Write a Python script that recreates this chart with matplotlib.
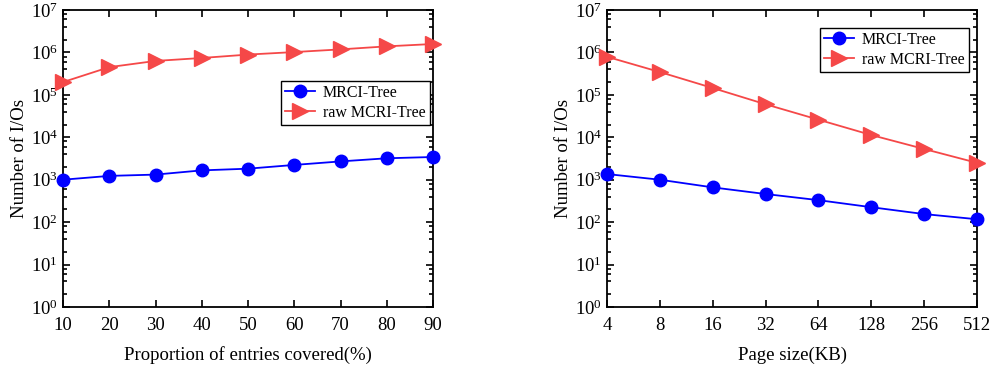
import numpy as np
import matplotlib
matplotlib.use("Agg")
import matplotlib.pyplot as plt
from matplotlib.ticker import LogLocator, FixedLocator, NullFormatter, NullLocator

plt.rcParams['font.family'] = ['Liberation Serif', 'DejaVu Serif']
plt.rcParams['mathtext.fontset'] = 'stix'
plt.rcParams['font.size'] = 13.5

# left chart: proportion of entries covered
proportion = [10, 20, 30, 40, 50, 60, 70, 80, 90]
mrci_prop = [1000, 1230, 1320, 1660, 1820, 2230, 2700, 3200, 3430]
raw_prop = [2.0e5, 4.5e5, 6.3e5, 7.4e5, 8.9e5, 1.02e6, 1.18e6, 1.39e6, 1.58e6]

# right chart: page size
page_kb = [4, 8, 16, 32, 64, 128, 256, 512]
mrci_page = [1360, 1000, 660, 460, 330, 225, 155, 117]
raw_page = [7.9e5, 3.45e5, 1.45e5, 6.0e4, 2.6e4, 1.13e4, 5.3e3, 2.5e3]

BLUE = '#0000FF'
RED = '#F54848'

fig = plt.figure(figsize=(9.91, 3.69), dpi=100)
ax1 = fig.add_axes([63 / 991, 1 - 307 / 369, 370 / 991, 297 / 369])
ax2 = fig.add_axes([607 / 991, 1 - 307 / 369, 370 / 991, 297 / 369])


def style(ax):
    ax.set_yscale('log')
    ax.set_ylim(1, 1e7)
    ax.yaxis.set_major_locator(LogLocator(base=10, numticks=10))
    ax.yaxis.set_minor_locator(LogLocator(base=10, subs=(2, 4, 6, 8), numticks=10))
    ax.yaxis.set_minor_formatter(NullFormatter())
    ax.tick_params(which='both', direction='in', top=True, right=True, width=1.2)
    ax.tick_params(which='major', length=5)
    ax.tick_params(which='minor', length=3)
    ax.tick_params(axis='x', which='major', pad=7)
    ax.xaxis.set_minor_locator(NullLocator())
    for s in ax.spines.values():
        s.set_linewidth(1.3)
    ax.set_ylabel('Number of I/Os', labelpad=2)


leg_kw = dict(loc='upper left', frameon=True, fancybox=False, edgecolor='black',
              framealpha=1, handlelength=1.9, borderpad=0.25, labelspacing=0.25,
              handletextpad=0.5, borderaxespad=0, fontsize=11.5)

ax1.plot(proportion, mrci_prop, '-o', color=BLUE, ms=9, lw=1.3, label='MRCI-Tree', clip_on=False, zorder=3)
ax1.plot(proportion, raw_prop, '->', color=RED, ms=11, lw=1.3, label='raw MCRI-Tree', clip_on=False, zorder=3)
style(ax1)
ax1.set_xlim(10, 90)
ax1.set_xticks(proportion)
ax1.set_xlabel('Proportion of entries covered(%)', labelpad=9)
ax1.legend(bbox_to_anchor=(0.588, 0.762), **leg_kw)

ax2.plot(page_kb, mrci_page, '-o', color=BLUE, ms=9, lw=1.3, label='MRCI-Tree', clip_on=False, zorder=3)
ax2.plot(page_kb, raw_page, '->', color=RED, ms=11, lw=1.3, label='raw MCRI-Tree', clip_on=False, zorder=3)
style(ax2)
ax2.set_xscale('log', base=2)
ax2.set_xlim(4, 512)
ax2.xaxis.set_major_locator(FixedLocator(page_kb))
ax2.set_xticklabels([str(p) for p in page_kb])
ax2.xaxis.set_minor_locator(NullLocator())
ax2.set_xlabel('Page size(KB)', labelpad=9)
ax2.legend(bbox_to_anchor=(0.575, 0.94), **leg_kw)

fig.savefig('out.png', dpi=100)
